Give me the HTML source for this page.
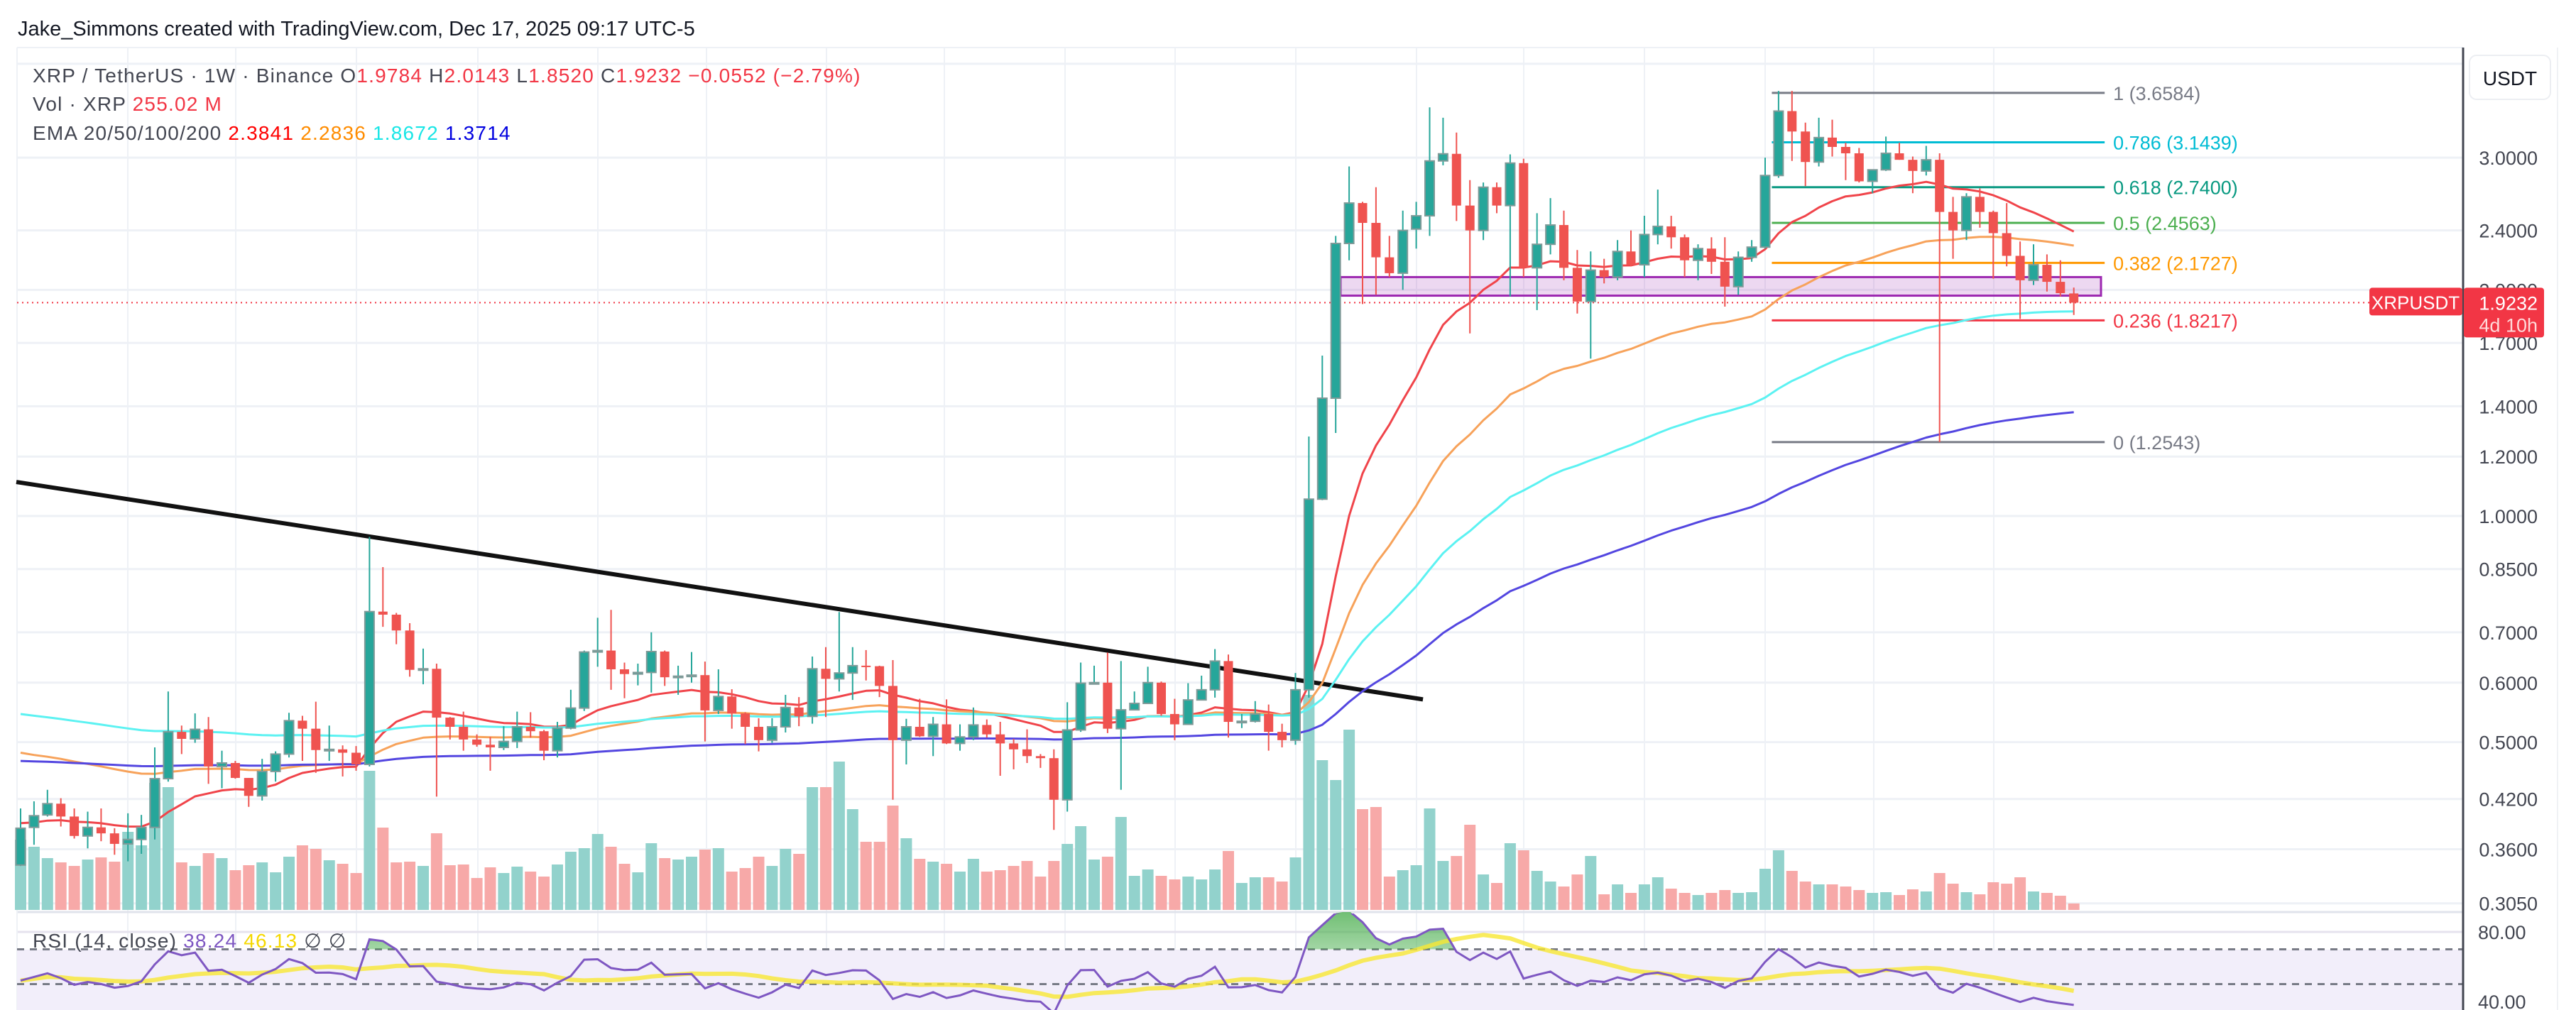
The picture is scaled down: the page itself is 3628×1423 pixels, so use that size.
<!DOCTYPE html>
<html><head><meta charset="utf-8">
<style>
html,body{margin:0;padding:0;background:#fff;}
svg{display:block;font-family:"Liberation Sans",sans-serif;}
</style></head>
<body>
<svg id="chart" xmlns="http://www.w3.org/2000/svg" width="3628" height="1423" viewBox="0 0 3628 1423">
  <rect x="0" y="0" width="3628" height="1423" fill="#ffffff"/>
  <text x="25" y="50" font-size="29" fill="#131722">Jake_Simmons created with TradingView.com, Dec 17, 2025 09:17 UTC-5</text>
  <g id="grid"></g>
  <rect x="24" y="1338" width="3445" height="85" fill="#f2eefa"/>
  <g id="vol"></g>
  <g id="draw"></g>
  <g id="ema"></g>
  <g id="candles"></g>
  <g id="rsi"></g>
  <g id="axis"></g>
  <g font-size="28" letter-spacing="1.2">
    <text x="46" y="116" fill="#434651">XRP / TetherUS · 1W · Binance  O<tspan fill="#f23645">1.9784</tspan>  H<tspan fill="#f23645">2.0143</tspan>  L<tspan fill="#f23645">1.8520</tspan>  C<tspan fill="#f23645">1.9232</tspan>  <tspan fill="#f23645">−0.0552 (−2.79%)</tspan></text>
    <text x="46" y="156" fill="#434651">Vol · XRP  <tspan fill="#f23645">255.02 M</tspan></text>
    <text x="46" y="197" fill="#434651">EMA 20/50/100/200  <tspan fill="#ff0000">2.3841</tspan>  <tspan fill="#ff8c00">2.2836</tspan>  <tspan fill="#19e6e6">1.8672</tspan>  <tspan fill="#0000e0">1.3714</tspan></text>
    <text x="46" y="1335" fill="#434651">RSI (14, close)  <tspan fill="#7e57c2">38.24</tspan>  <tspan fill="#f5d800">46.13</tspan>  ∅  ∅</text>
  </g>
</svg>
<script>
const opens=[.343,.385,.400,.414,.398,.375,.385,.378,.366,.371,
.385,.447,.516,.505,.520,.464,.469,.448,.424,.457,
.482,.534,.521,.488,.489,.484,.467,.746,.739,.704,
.625,.626,.539,.524,.504,.496,.492,.501,.524,.517,
.487,.522,.555,.659,.662,.625,.616,.619,.660,.610,
.612,.614,.551,.575,.546,.524,.503,.524,.556,.541,
.626,.607,.618,.632,.631,.594,.503,.524,.509,.528,
.498,.508,.527,.512,.498,.489,.479,.476,.419,.519,
.599,.600,.521,.552,.563,.600,.545,.528,.569,.587,
.641,.532,.533,.545,.516,.503,.587,1.053,1.435,2.306,
2.61,2.456,2.21,2.105,2.41,2.51,2.97,3.035,2.59,2.40,
2.74,2.59,2.95,2.14,2.30,2.44,2.14,1.93,2.125,2.08,
2.25,2.16,2.37,2.43,2.35,2.19,2.27,2.18,2.02,2.21,
2.28,2.84,3.46,3.25,2.96,3.19,3.10,3.04,2.79,2.89,
3.04,2.98,2.88,2.98,2.54,2.40,2.66,2.54,2.38,2.22,
2.06,2.16,2.05,1.9784];
const highs=[.408,.417,.432,.421,.408,.404,.408,.384,.402,.400,
.492,.584,.526,.546,.540,.487,.472,.448,.475,.486,
.547,.542,.566,.526,.495,.494,.938,.855,.743,.720,
.666,.636,.540,.549,.512,.508,.525,.549,.548,.519,
.532,.587,.662,.732,.750,.638,.636,.700,.662,.632,
.659,.640,.625,.588,.548,.538,.538,.578,.574,.650,
.669,.745,.669,.663,.632,.643,.537,.571,.540,.570,
.528,.556,.536,.532,.505,.520,.482,.489,.565,.638,
.632,.658,.641,.584,.630,.602,.571,.599,.613,.665,
.654,.545,.567,.561,.529,.618,1.276,1.635,2.36,2.92,
2.62,2.74,2.36,2.55,2.62,3.5,3.39,3.24,2.8,2.78,
2.78,3.03,2.99,2.53,2.65,2.55,2.26,2.25,2.20,2.33,
2.40,2.51,2.72,2.51,2.37,2.30,2.35,2.35,2.25,2.33,
3.0,3.68,3.68,3.34,3.39,3.37,3.14,3.09,2.85,3.20,
3.14,3.01,3.11,3.04,2.66,2.69,2.73,2.55,2.61,2.32,
2.30,2.23,2.19,2.0143];
const lows=[.342,.365,.398,.386,.372,.361,.369,.354,.347,.355,
.371,.443,.482,.499,.440,.434,.447,.410,.418,.443,
.477,.472,.455,.472,.450,.458,.464,.712,.675,.611,
.597,.423,.504,.487,.493,.458,.488,.491,.507,.473,
.477,.520,.550,.630,.587,.572,.595,.582,.594,.578,
.600,.501,.545,.521,.497,.486,.499,.515,.525,.529,
.540,.584,.569,.604,.574,.419,.467,.508,.479,.497,
.487,.503,.507,.451,.460,.469,.462,.382,.404,.516,
.597,.514,.432,.551,.562,.542,.503,.527,.569,.573,
.507,.522,.531,.487,.492,.496,.573,1.05,1.29,2.19,
1.915,1.97,2.08,2.0,2.27,2.36,2.93,2.47,1.75,2.33,
2.53,1.96,2.08,1.88,2.23,2.06,1.86,1.62,2.04,2.06,
2.15,2.08,2.30,2.27,2.08,2.06,2.10,1.90,1.97,2.18,
2.27,2.82,2.97,2.75,2.92,3.01,2.80,2.78,2.69,2.88,
2.98,2.69,2.84,1.254,2.20,2.33,2.42,2.07,2.15,1.83,
2.03,1.99,1.96,1.852];
const closes=[.384,.399,.414,.398,.375,.385,.378,.366,.371,.385,
.447,.516,.505,.520,.464,.469,.448,.424,.457,.482,
.534,.521,.488,.489,.484,.467,.746,.739,.704,.624,
.626,.539,.524,.504,.496,.492,.501,.524,.517,.487,
.522,.555,.659,.662,.625,.616,.619,.660,.610,.612,
.614,.551,.575,.546,.524,.503,.524,.556,.541,.626,
.607,.618,.632,.631,.594,.503,.524,.509,.528,.498,
.508,.527,.512,.498,.489,.479,.476,.419,.519,.599,
.600,.521,.552,.563,.600,.545,.528,.569,.587,.641,
.532,.533,.545,.516,.503,.587,1.053,1.435,2.306,2.61,
2.456,2.21,2.105,2.40,2.51,2.97,3.035,2.59,2.40,2.74,
2.59,2.95,2.14,2.30,2.44,2.14,1.93,2.125,2.08,2.25,
2.16,2.37,2.43,2.35,2.19,2.27,2.18,2.02,2.21,2.28,
2.84,3.46,3.25,2.96,3.19,3.10,3.04,2.79,2.89,3.04,
2.98,2.88,2.98,2.54,2.40,2.66,2.54,2.38,2.22,2.06,
2.16,2.05,1.98,1.9232];
const volumesM=[2772,2492,2044,1876,1736,1988,2072,1904,3080,2548,
5012,4844,1876,1736,2240,2044,1568,1764,1876,1484,
2100,2548,2408,1960,1820,1456,5488,3248,1876,1904,
1736,3024,1764,1792,1260,1680,1456,1708,1512,1316,
1792,2296,2436,2996,2492,1820,1484,2632,2044,
1988,2100,2380,2436,1512,1652,2100,1736,2408,2212,
4844,4844,5852,3976,2688,2688,4116,2828,2016,1904,
1820,1512,2016,1512,1568,1736,1932,1316,1932,2604,
3304,1988,2100,3668,1344,1596,1344,1204,1316,1204,
1596,2324,1064,1288,1288,1120,2072,8484,5908,5124,
7112,3976,4060,1316,1568,1764,4004,1932,2128,
3360,1400,1064,2632,2352,1540,1120,924,1400,2128,
616,1008,672,1008,1288,840,672,588,672,784,
672,700,1624,2352,1540,1120,1008,1008,924,784,
672,700,588,812,728,1456,1036,700,616,1092,
1036,1288,728,672,560,255];
const priceTicks=[3.0,2.4,2.0,1.7,1.4,1.2,1.0,0.85,0.7,0.6,0.5,0.42,0.36,0.305];
const priceTickLabels=["3.0000","2.4000","2.0000","1.7000","1.4000","1.2000","1.0000","0.8500","0.7000","0.6000","0.5000","0.4200","0.3600","0.3050"];
const fibLevels=[1,0.786,0.618,0.5,0.382,0.236,0];
const fibPrices=[3.6584,3.1439,2.7400,2.4563,2.1727,1.8217,1.2543];
const emaPeriods=[20,50,100,200];
const emaSeeds=[0.39,0.484,0.545,0.472];
const rsiTicks=[80,40];
const rsiTickLabels=["80.00","40.00"];
const lastPrice=1.9232;
const zoneTop=2.08, zoneBottom=1.965;
const trendStart=[0,1.11], trendEnd=[104.5,0.57];
const fibStartIdx=130.5, fibEndIdx=155.3;

const NS="http://www.w3.org/2000/svg";
function mk(tag,attrs,parent){const e=document.createElementNS(NS,tag);for(const k in attrs)e.setAttribute(k,attrs[k]);parent.appendChild(e);return e;}
const X0=29, STEP=18.9;
function xS(i){return X0+STEP*i;}
function yP(p){return 727-459.6*Math.log(p);}
function yV(v){return 1282-v/28;}
function yR(r){return 1313+(80-r)*2.45;}
const PL=24, PR=3469;

const grid=document.getElementById('grid');
const vx=[180,332,502,673,842,995,1164,1330,1500,1655,1825,1995,2146,2316,2486,2639,2808];
vx.forEach(x=>{const l=mk('line',{x1:x,x2:x,y1:67,y2:1423,stroke:'#eef1f6','stroke-width':2},grid);

});
[4.0].concat(priceTicks).forEach(p=>{const l=mk('line',{x1:PL,x2:PR,y1:yP(p),y2:yP(p),stroke:'#eef1f6','stroke-width':3},grid);

});
rsiTicks.forEach(r=>{const l=mk('line',{x1:PL,x2:PR,y1:yR(r),y2:yR(r),stroke:'#e6e3ee','stroke-width':3},grid);

});
const topLine=mk('line',{x1:PL,x2:3602,y1:67,y2:67,stroke:'#eef1f6','stroke-width':2},grid);


const sep=mk('line',{x1:PL,x2:3602,y1:1285,y2:1285,stroke:'#e0e3eb','stroke-width':3},grid);


const leftB=mk('line',{x1:PL,x2:PL,y1:67,y2:1423,stroke:'#eef1f6','stroke-width':2},grid);



const vol=document.getElementById('vol');
volumesM.forEach((v,i)=>{const up=closes[i]>=opens[i];
const r=mk('rect',{x:xS(i)-8,y:yV(v),width:16,height:1282-yV(v),fill:up?'#92d2cc':'#f7a9a8'},vol);

});

const draw=document.getElementById('draw');
const zone=mk('rect',{x:1888,y:yP(zoneTop),width:2959-1888,height:yP(zoneBottom)-yP(zoneTop),fill:'rgba(156,39,176,0.18)',stroke:'#9c27b0','stroke-width':3},draw);


const tl=mk('line',{x1:xS(trendStart[0])-6,y1:yP(trendStart[1]),x2:xS(trendEnd[0]),y2:yP(trendEnd[1]),stroke:'#111','stroke-width':6},draw);


const fibColors=['#787b86','#00bcd4','#089981','#4caf50','#ff9800','#f23645','#787b86'];
fibLevels.forEach((lv,k)=>{const y=yP(fibPrices[k]);
const l=mk('line',{x1:xS(fibStartIdx),x2:xS(fibEndIdx),y1:y,y2:y,stroke:fibColors[k],'stroke-width':3},draw);


const t=mk('text',{x:xS(fibEndIdx)+12,y:y+10,'font-size':27,fill:fibColors[k]},draw);
t.textContent=lv+' ('+fibPrices[k].toFixed(4)+')';

});
const pl=mk('line',{x1:PL,x2:3337,y1:yP(lastPrice),y2:yP(lastPrice),stroke:'#f23645','stroke-width':2,'stroke-dasharray':'2 5'},draw);



const ema=document.getElementById('ema');
const emaColors=['#f0444a','#f7a25a','#5cf2f2','#5346e0'];
emaPeriods.forEach((n,k)=>{const a=2/(n+1);let e=emaSeeds[k];const pts=[];
closes.forEach((c,i)=>{if(i>0)e=a*c+(1-a)*e;pts.push(xS(i).toFixed(1)+','+yP(e).toFixed(1));});
const pth=mk('polyline',{points:pts.join(' '),fill:'none',stroke:emaColors[k],'stroke-width':3,'stroke-linejoin':'round'},ema);

});

const cg=document.getElementById('candles');
closes.forEach((c,i)=>{const o=opens[i],up=c>=o,col=up?'#26a69a':'#ef5350',x=xS(i);
const w=mk('line',{x1:x,x2:x,y1:yP(highs[i]),y2:yP(lows[i]),stroke:col,'stroke-width':2},cg);


const yt=Math.min(yP(o),yP(c)),h=Math.max(2,Math.abs(yP(o)-yP(c)));
const b=mk('rect',{x:x-6.5,y:yt,width:13,height:h,fill:col,stroke:up?'#7f9a98':col,'stroke-width':up?2:0},cg);

});

const rg=document.getElementById('rsi');
let ag=0.013,al=0.012;const rsiVals=[];
closes.forEach((c,i)=>{if(i>0){const ch=c-closes[i-1];ag=(ag*13+Math.max(ch,0))/14;al=(al*13+Math.max(-ch,0))/14;}
rsiVals.push(100-100/(1+ag/al));});
const sigVals=rsiVals.map((r,i)=>{const s=rsiVals.slice(Math.max(0,i-13),i+1);return s.reduce((a,b)=>a+b,0)/s.length;});
[70,50].forEach(r=>{const l=mk('line',{x1:PL,x2:PR,y1:yR(r),y2:yR(r),stroke:'#787b86','stroke-width':3,'stroke-dasharray':'10 8'},rg);

});
const defs=mk('defs',{},rg);
const cp=mk('clipPath',{id:'ob'},defs);
mk('rect',{x:PL,y:1285,width:PR-PL,height:yR(70)-1285},cp);
const cpp=mk('clipPath',{id:'rp'},defs);
mk('rect',{x:PL,y:1287,width:PR-PL,height:136},cpp);
const gr=mk('linearGradient',{id:'gg',x1:0,y1:0,x2:0,y2:1},defs);
mk('stop',{offset:'0','stop-color':'#4caf50','stop-opacity':'0.8'},gr);
mk('stop',{offset:'1','stop-color':'#4caf50','stop-opacity':'0.05'},gr);
const rp=rsiVals.map((r,i)=>xS(i).toFixed(1)+','+yR(r).toFixed(1));
const area=mk('polygon',{points:xS(0)+','+yR(70)+' '+rp.join(' ')+' '+xS(rsiVals.length-1)+','+yR(70),fill:'url(#gg)','clip-path':'url(#ob)'},rg);


const sg=mk('polyline',{points:sigVals.map((r,i)=>xS(i).toFixed(1)+','+yR(r).toFixed(1)).join(' '),fill:'none',stroke:'#f7e733','stroke-width':6,'stroke-opacity':0.8,'clip-path':'url(#rp)'},rg);


const rl=mk('polyline',{points:rp.join(' '),fill:'none',stroke:'#7e57c2','stroke-width':3,'clip-path':'url(#rp)'},rg);



const ax=document.getElementById('axis');
const abg=mk('rect',{x:PR,y:60,width:3628-PR,height:1363,fill:'#ffffff'},ax);


const ab=mk('line',{x1:PR,x2:PR,y1:67,y2:1423,stroke:'#434651','stroke-width':3},ax);


const ab2=mk('line',{x1:3602,x2:3602,y1:67,y2:1423,stroke:'#f0f2f5','stroke-width':2},ax);


priceTicks.forEach((p,k)=>{const t=mk('text',{x:3574,y:yP(p)+10,'font-size':27,fill:'#434651','text-anchor':'end'},ax);
t.textContent=priceTickLabels[k];

});
rsiTicks.forEach((r,k)=>{const t=mk('text',{x:3490,y:yR(r)+10,'font-size':27,fill:'#434651'},ax);
t.textContent=rsiTickLabels[k];

});
const ub=mk('rect',{x:3478,y:78,width:114,height:62,rx:10,fill:'#fff',stroke:'#eceef2','stroke-width':2},ax);


const ut=mk('text',{x:3535,y:120,'font-size':28,fill:'#131722','text-anchor':'middle'},ax);
ut.textContent='USDT';


const yl=yP(lastPrice);
const sb=mk('rect',{x:3337,y:yl-21,width:131,height:39,rx:4,fill:'#f23645'},ax);


const st=mk('text',{x:3402,y:yl+9,'font-size':26,fill:'#fff','text-anchor':'middle'},ax);
st.textContent='XRPUSDT';


const pb=mk('rect',{x:3470,y:yl-21,width:113,height:70,rx:4,fill:'#f23645'},ax);


const pt=mk('text',{x:3574,y:yl+10,'font-size':27,fill:'#fff','text-anchor':'end'},ax);
pt.textContent=lastPrice.toFixed(4);


const ct=mk('text',{x:3574,y:yl+41,'font-size':27,fill:'#ffd9d9','text-anchor':'end'},ax);
ct.textContent='4d 10h';


</script>
</body></html>
